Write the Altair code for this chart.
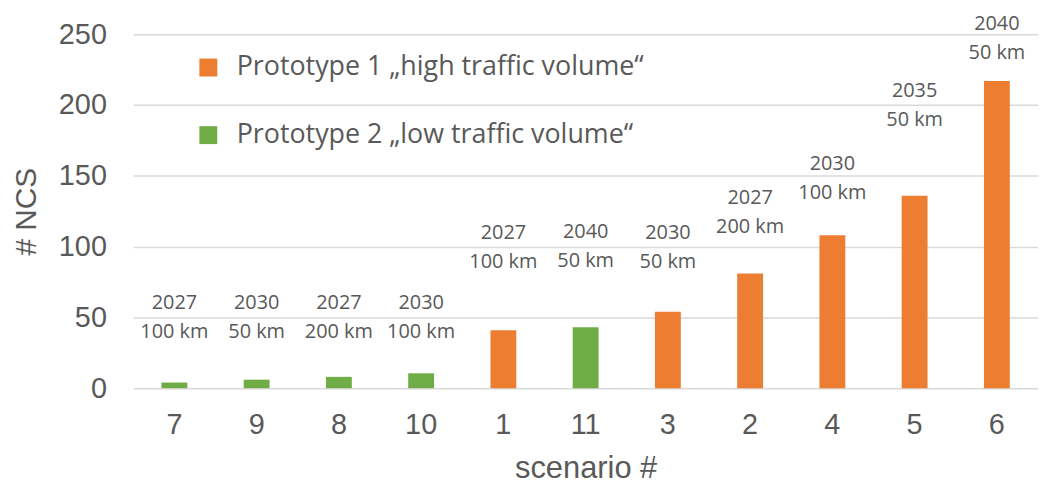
import altair as alt
import pandas as pd

scenarios = ["7", "9", "8", "10", "1", "11", "3", "2", "4", "5", "6"]
ncs = [4, 6, 8, 10.5, 41, 43, 54, 81, 108, 136, 217]
P1 = "Prototype 1 „high traffic volume“"
P2 = "Prototype 2 „low traffic volume“"
prototype = [P2, P2, P2, P2, P1, P2, P1, P1, P1, P1, P1]
years = ["2027", "2030", "2027", "2030", "2027", "2040", "2030", "2027", "2030", "2035", "2040"]
distances = ["100 km", "50 km", "200 km", "100 km", "100 km", "50 km", "50 km",
             "200 km", "100 km", "50 km", "50 km"]
label_level = [60, 60, 60, 60, 109.5, 110, 109.5, 134, 158.5, 210, 257]

df = pd.DataFrame({
    "scenario": scenarios,
    "ncs": ncs,
    "prototype": prototype,
    "year": years,
    "dist": distances,
    "lab": label_level,
})

TEXT = "#595959"
AX_FONT = "Liberation Sans"
LB_FONT = "Open Sans"

x = alt.X("scenario:N", sort=scenarios,
          scale=alt.Scale(paddingInner=0, paddingOuter=0),
          axis=alt.Axis(title="scenario #", labelAngle=0, labelFontSize=29,
                        labelFont=AX_FONT, labelColor=TEXT, titleFont=AX_FONT,
                        titleFontSize=31, titleFontWeight="normal", titleColor=TEXT,
                        titlePadding=14, labelPadding=23, tickSize=0, domain=False,
                        grid=False))

y_scale = alt.Scale(domain=[0, 250], nice=False)

bars = alt.Chart(df).mark_bar(size=26).encode(
    x=x,
    y=alt.Y("ncs:Q", scale=y_scale,
            axis=alt.Axis(title="# NCS", values=[0, 50, 100, 150, 200, 250],
                          labelFontSize=29, labelFont=AX_FONT, labelColor=TEXT,
                          titleFont=AX_FONT, titleFontSize=30,
                          titleFontWeight="normal", titleColor=TEXT, titlePadding=17,
                          labelPadding=27, tickSize=0, domain=False,
                          gridColor="#D9D9D9", gridWidth=1.5)),
    color=alt.Color("prototype:N",
                    scale=alt.Scale(domain=[P1, P2], range=["#ED7D31", "#70AD47"]),
                    legend=alt.Legend(title=None, orient="none", legendX=62, legendY=20,
                                      symbolType="square", symbolSize=324,
                                      symbolStrokeWidth=0, labelFontSize=27,
                                      labelFont=LB_FONT, labelColor=TEXT,
                                      labelOffset=15, rowPadding=40, labelLimit=700)),
)

year_text = alt.Chart(df).mark_text(fontSize=20, font=LB_FONT, color=TEXT,
                                    baseline="middle").encode(
    x=alt.X("scenario:N", sort=scenarios), y=alt.Y("lab:Q", scale=y_scale), text="year:N")

dist_text = alt.Chart(df).mark_text(fontSize=20, font=LB_FONT, color=TEXT,
                                    baseline="middle", dy=29).encode(
    x=alt.X("scenario:N", sort=scenarios), y=alt.Y("lab:Q", scale=y_scale), text="dist:N")

chart = alt.layer(bars, year_text, dist_text).properties(
    width=910, height=356,
    autosize=alt.AutoSizeParams(type="none"),
    padding={"left": 126, "top": 25, "right": 0, "bottom": 97},
).configure_view(stroke=None)

chart.save("out.html", embed_options={"renderer": "svg", "actions": False})
